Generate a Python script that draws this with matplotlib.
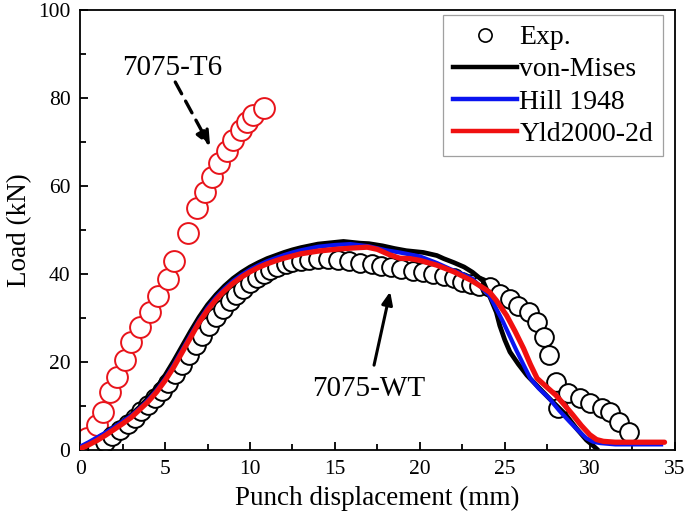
import matplotlib
matplotlib.use('Agg')
import matplotlib.pyplot as plt
from matplotlib.ticker import MultipleLocator
from matplotlib.lines import Line2D

# Experimental data, 7075-T6 (red circles)
t6_disp = [0.0, 0.39, 0.98, 1.37, 1.76, 2.16, 2.65, 3.0, 3.53, 4.12, 4.6, 5.16, 5.55,
           6.37, 6.86, 7.35, 7.78, 8.2, 8.63, 9.02, 9.45, 9.8, 10.2, 10.8]
t6_load = [0.6, 2.7, 5.7, 8.7, 13.3, 16.7, 20.4, 24.6, 28.0, 31.3, 35.1, 38.9, 42.9,
           49.4, 55.1, 58.6, 62.0, 65.2, 67.9, 70.5, 72.8, 74.5, 76.2, 77.7]

# Experimental data, 7075-WT (black circles)
wt_disp = [1.0, 1.45, 1.9, 2.35, 2.8, 3.2, 3.6, 4.0, 4.4, 4.8, 5.2, 5.6, 6.0, 6.4, 6.8,
           7.2, 7.6, 8.0, 8.4, 8.8, 9.2, 9.6, 10.0, 10.4, 10.8, 11.2, 11.6, 12.1, 12.5,
           13.0, 13.5, 14.0, 14.6, 15.2, 15.8, 16.5, 17.2, 17.7, 18.3, 18.9, 19.6, 20.2,
           20.8, 21.4, 22.0, 22.5, 23.0, 23.5, 24.1, 24.7, 25.3, 25.8, 26.4, 26.9, 27.3,
           27.6, 28.1, 28.0, 28.7, 29.4, 30.0, 30.7, 31.2, 31.7, 32.3]
wt_load = [0.5, 1.8, 3.2, 4.6, 6.0, 7.4, 8.8, 10.3, 11.8, 13.5, 15.3, 17.2, 19.3, 21.5,
           23.8, 26.0, 28.2, 30.2, 32.0, 33.8, 35.3, 36.7, 37.9, 39.0, 40.0, 40.8, 41.6,
           42.2, 42.7, 43.0, 43.2, 43.3, 43.3, 43.2, 43.0, 42.6, 42.2, 41.8, 41.5, 41.1,
           40.7, 40.4, 40.0, 39.6, 39.0, 38.3, 37.7, 37.3, 37.0, 35.5, 34.3, 32.8, 31.3,
           29.1, 25.7, 21.5, 9.5, 15.5, 12.9, 11.8, 10.6, 9.5, 8.7, 6.5, 4.2]

# Simulation: von-Mises
vm_disp = [0.0, 0.5, 1.0, 1.5, 2.0, 2.5, 3.0, 3.5, 4.0, 4.5, 5.0, 5.5, 6.0, 6.5, 7.0,
           7.5, 8.0, 8.5, 9.0, 9.5, 10.0, 10.5, 11.0, 11.5, 12.0, 12.5, 13.0, 13.5,
           14.0, 14.5, 15.0, 15.5, 16.0, 16.5, 17.0, 17.8, 18.5, 19.2, 20.2, 21.0, 21.4,
           22.0, 22.6, 23.1, 23.7, 24.1, 24.5, 24.7, 25.0, 25.3, 25.8, 26.3, 27.0, 27.6,
           28.1, 28.6, 29.2, 29.8, 30.2, 30.4]
vm_load = [0.5, 1.5, 2.6, 3.8, 5.1, 6.5, 8.0, 9.8, 11.8, 14.2, 17.0, 20.2, 23.6, 27.0,
           30.2, 33.0, 35.3, 37.3, 39.0, 40.4, 41.6, 42.6, 43.5, 44.2, 44.9, 45.5, 46.0,
           46.4, 46.8, 47.0, 47.2, 47.4, 47.2, 47.0, 46.9, 46.4, 45.8, 45.3, 44.9, 44.2,
           43.5, 42.6, 41.6, 40.4, 38.5, 35.0, 31.3, 28.3, 25.0, 22.3, 19.5, 17.0, 14.2,
           11.8, 9.9, 8.0, 5.0, 2.3, 1.0, 0.3]

# Simulation: Hill 1948
hill_disp = [0.0, 0.5, 1.0, 1.5, 2.0, 2.5, 3.0, 3.5, 4.0, 4.5, 5.0, 5.5, 6.0, 6.5, 7.0,
             7.5, 8.0, 8.5, 9.0, 9.5, 10.0, 10.5, 11.0, 11.5, 12.0, 12.5, 13.0, 14.0,
             15.0, 15.9, 17.0, 18.0, 18.8, 20.0, 21.0, 21.8, 22.5, 23.1, 24.1, 24.9,
             25.7, 26.5, 27.0, 27.6, 28.2, 28.8, 29.3, 29.8, 30.2, 30.6, 31.5, 34.2]
hill_load = [0.8, 1.8, 2.9, 4.0, 5.2, 6.5, 7.8, 9.5, 11.4, 13.6, 16.2, 19.3, 22.7, 26.1,
             29.4, 32.3, 34.7, 36.7, 38.4, 39.8, 41.0, 42.0, 42.9, 43.6, 44.3, 44.9,
             45.4, 46.2, 46.6, 46.8, 46.3, 45.4, 44.9, 44.0, 42.5, 41.1, 40.0, 38.9,
             35.1, 29.1, 22.5, 16.3, 14.0, 11.8, 9.0, 6.5, 4.5, 2.7, 1.9, 1.6, 1.3, 1.3]

# Simulation: Yld2000-2d
yld_disp = [0.0, 0.5, 1.0, 1.5, 2.0, 2.5, 3.0, 3.5, 4.0, 4.5, 5.0, 5.5, 6.0, 6.5, 7.0,
            7.5, 8.0, 8.5, 9.0, 9.5, 10.0, 10.5, 11.0, 11.5, 12.0, 12.5, 13.0, 14.0,
            15.0, 16.0, 16.9, 17.5, 18.2, 18.8, 19.4, 20.0, 21.0, 22.0, 23.0, 23.5,
            24.1, 24.5, 25.1, 25.6, 26.1, 26.5, 26.9, 27.5, 28.0, 28.5, 29.0, 29.5,
            30.0, 30.4, 30.8, 31.5, 34.4]
yld_load = [0.3, 1.2, 2.2, 3.4, 4.7, 6.0, 7.4, 9.2, 11.0, 13.2, 15.8, 18.8, 22.2, 25.6,
            29.0, 31.8, 34.2, 36.2, 37.9, 39.3, 40.5, 41.5, 42.3, 43.0, 43.6, 44.1,
            44.6, 45.2, 45.6, 45.9, 46.1, 45.6, 44.4, 43.6, 43.5, 43.1, 42.0, 40.5,
            38.6, 37.4, 35.9, 34.0, 30.6, 27.0, 23.1, 19.5, 16.3, 14.2, 12.5, 10.3,
            8.0, 5.6, 3.5, 2.4, 2.0, 1.8, 1.8]


def plot_load_displacement():
    plt.rcParams['font.family'] = ['Liberation Serif', 'DejaVu Serif']

    fig = plt.figure(figsize=(6.85, 5.18), dpi=100)
    ax = fig.add_axes([0.117, 0.131, 0.868, 0.850])

    # experimental points (white filled so later circles overlap earlier ones)
    ax.plot(t6_disp, t6_load, 'o', ls='none', ms=15, mfc='white', mec='#e8141b', mew=1.4, zorder=2)
    ax.plot(wt_disp, wt_load, 'o', ls='none', ms=13.5, mfc='white', mec='black', mew=1.4, zorder=2)

    # simulation curves
    ax.plot(vm_disp, vm_load, color='black', lw=3.4, zorder=3)
    ax.plot(hill_disp, hill_load, color='#0a14f0', lw=3.0, zorder=4)
    ax.plot(yld_disp, yld_load, color='#f01010', lw=3.8, zorder=5, solid_capstyle='round')

    ax.set_xlim(0, 35)
    ax.set_ylim(0, 100)
    ax.xaxis.set_major_locator(MultipleLocator(5))
    ax.xaxis.set_minor_locator(MultipleLocator(2.5))
    ax.yaxis.set_major_locator(MultipleLocator(20))
    ax.yaxis.set_minor_locator(MultipleLocator(10))
    ax.tick_params(which='both', direction='in', top=False, right=False, width=1.3, labelsize=15.5, pad=7)
    ax.tick_params(which='major', length=6)
    ax.tick_params(which='minor', length=4)
    for sp in ax.spines.values():
        sp.set_linewidth(1.3)

    ax.set_xlabel('Punch displacement (mm)', fontsize=19.5, labelpad=5)
    ax.set_ylabel('Load (kN)', fontsize=19.5, labelpad=4)

    # annotations
    ax.text(5.4, 86.7, '7075-T6', fontsize=21, ha='center', va='center')
    ax.annotate('', xy=(7.65, 69.0), xytext=(5.6, 83.6),
                arrowprops=dict(arrowstyle='-|>,head_length=0.9,head_width=0.4', lw=2.4,
                                linestyle=(0, (4, 2.5)), color='black', shrinkA=0, shrinkB=0))
    ax.text(17.0, 14.0, '7075-WT', fontsize=21, ha='center', va='center')
    ax.annotate('', xy=(18.25, 36.0), xytext=(17.3, 19.3),
                arrowprops=dict(arrowstyle='-|>,head_length=0.75,head_width=0.32', lw=2.2,
                                color='black', shrinkA=0, shrinkB=0))

    handles = [
        Line2D([], [], marker='o', ls='none', ms=9.5, mfc='white', mec='black', mew=1.2),
        Line2D([], [], color='black', lw=3.2),
        Line2D([], [], color='#0a14f0', lw=3.2),
        Line2D([], [], color='#f01010', lw=3.2),
    ]
    labels = ['Exp.', 'von-Mises', 'Hill 1948', 'Yld2000-2d']
    leg = ax.legend(handles, labels, loc='upper right', bbox_to_anchor=(0.98, 0.988),
                    fontsize=20, frameon=True, fancybox=False, handlelength=2.3,
                    handletextpad=0.1, labelspacing=0.24, borderpad=0.35, borderaxespad=0)
    leg.get_frame().set_edgecolor('#888888')
    leg.get_frame().set_linewidth(0.9)

    fig.savefig('out.png', dpi=100)
    plt.close(fig)


if __name__ == '__main__':
    plot_load_displacement()
